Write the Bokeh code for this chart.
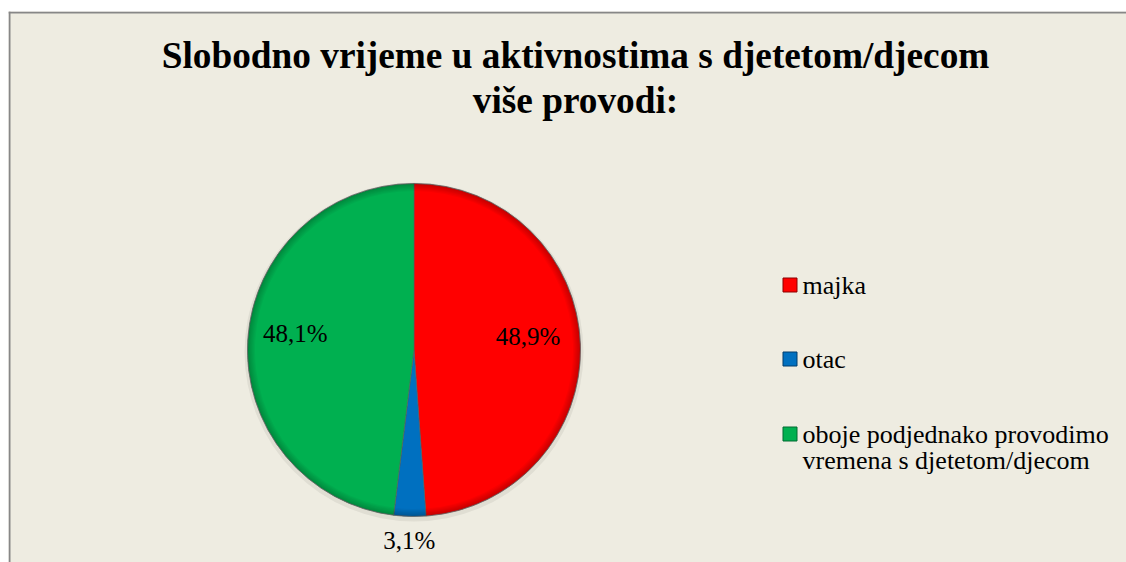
import math
from bokeh.plotting import figure
from bokeh.models import Range1d, Span, ColumnDataSource
from bokeh.core.properties import value
from bokeh.embed import file_html
from bokeh.resources import INLINE

# ---- data ----
categories = ["majka", "otac", "oboje podjednako provodimo\nvremena s djetetom/djecom"]
values = [48.9, 3.1, 48.1]
labels = ["48,9%", "3,1%", "48,1%"]
colors = ["#FF0000", "#0070C0", "#00B050"]
title_lines = ["Slobodno vrijeme u aktivnostima s djetetom/djecom", "više provodi:"]

# ---- layout (pixel-like data units, pie centre at origin) ----
W, H = 1126, 562
LEFT, TOP = 8, 11
FW, FH = W - LEFT, H - TOP
R = 166.5
CX, CY = 405.5, 338.5
FONT = "Liberation Serif"

p = figure(width=W, height=H, output_backend="svg", toolbar_location=None,
           x_range=Range1d(-CX, FW - CX), y_range=Range1d(-(FH - CY), CY),
           min_border_left=LEFT, min_border_right=0, min_border_bottom=0, min_border_top=TOP,
           x_axis_location=None, y_axis_location=None,
           background_fill_color="#EEECE1", border_fill_color="white",
           outline_line_color=None)
p.grid.visible = False

# border (left and top only visible in the reference)
p.add_layout(Span(location=-CX + 1, dimension="height", line_color="#878787", line_width=2))
p.add_layout(Span(location=CY - 1, dimension="width", line_color="#878787", line_width=2))

total = sum(values)
starts, ends, mids = [], [], []
cum = 0.0
for v in values:
    a0 = math.pi / 2 - 2 * math.pi * cum / total
    cum += v
    a1 = math.pi / 2 - 2 * math.pi * cum / total
    starts.append(a1)
    ends.append(a0)
    mids.append((a0 + a1) / 2)

src = ColumnDataSource(dict(start=starts, end=ends, color=colors, cat=categories))

# soft shadow around pie
p.circle(x=0, y=-2, radius=R + 3, fill_color="#000000", fill_alpha=0.06, line_color=None)

p.wedge(x=0, y=0, radius=R, start_angle="start", end_angle="end", direction="anticlock",
        fill_color="color", line_color="#5a5a5a", line_alpha=0.6, line_width=1, source=src)

# rim shading (bevel look)
for k in range(6):
    p.annular_wedge(x=0, y=0, inner_radius=R * (0.955 + 0.007 * k), outer_radius=R,
                    start_angle="start", end_angle="end", direction="anticlock",
                    fill_color="#000000", fill_alpha=0.035, line_color=None, source=src)
p.circle(x=0, y=0, radius=R, fill_color=None, line_color="#6b6b6b", line_alpha=0.5, line_width=1)

# pie labels
lab_r = [0.685, 1.145, 0.715]
lx, ly = [], []
for i, m in enumerate(mids):
    rr = lab_r[i] * R
    lx.append(rr * math.cos(m))
    ly.append(rr * math.sin(m) + (9 if lab_r[i] < 1 else 0))
p.text(x=lx, y=ly, text=labels, text_align="center", text_baseline="middle",
       text_font=value(FONT), text_font_size="25px", text_color="#000000")

# title
p.text(x=[161.5, 161.5], y=[295.0, 250.0], text=title_lines, text_align="center",
       text_baseline="middle", text_font=value(FONT), text_font_size="37.3px",
       text_font_style="bold", text_color="#000000")

# legend
sq_x = 376
tx = 388.5
mid_y = [65.0, -9.0, -84.0]
p.scatter(x=[sq_x] * 3, y=mid_y, marker="square", size=14,
          fill_color=colors, line_color=["#8b0000", "#003c6c", "#006b30"], line_width=1)
leg_x, leg_y, leg_t = [], [], []
for i, c in enumerate(categories):
    for j, line in enumerate(c.split("\n")):
        leg_x.append(tx)
        leg_y.append(mid_y[i] - 26.0 * j)
        leg_t.append(line)
p.text(x=leg_x, y=leg_y, text=leg_t, text_align="left", text_baseline="middle",
       text_font=value(FONT), text_font_size="26px", text_color="#000000")

open("out.html", "w").write(file_html(p, INLINE))
